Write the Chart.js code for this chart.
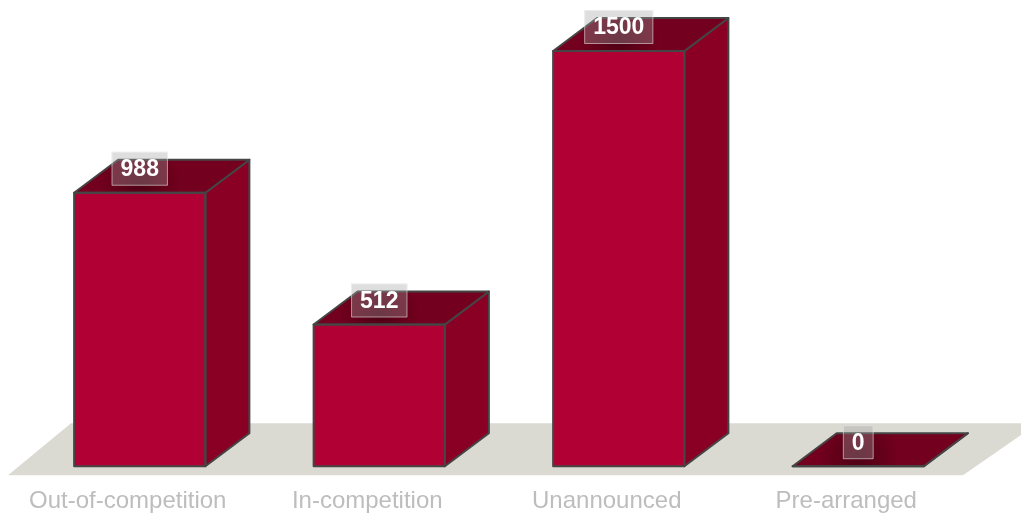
<!DOCTYPE html>
<html>
<head>
<meta charset="utf-8">
<script src="https://cdn.jsdelivr.net/npm/chart.js@4.4.1/dist/chart.umd.min.js"></script>
<style>
html,body{margin:0;padding:0;background:#ffffff;}
#wrap{position:relative;width:1021px;height:516px;}
</style>
</head>
<body>
<div id="wrap"><canvas id="c" width="1021" height="516"></canvas></div>
<script>
const categories = ["Out-of-competition", "In-competition", "Unannounced", "Pre-arranged"];
const values = [988, 512, 1500, 0];
const yMax = 1500;

const FRONT = "rgb(177,0,51)";
const SIDE = "rgb(138,0,36)";
const TOP = "rgb(114,0,30)";
const EDGE = "#454545";
const FLOOR = "#dad9d2";
const DX = 44, DY = -33;

const floorPlugin = {
  id: "floor3d",
  beforeDatasetsDraw(chart) {
    const ctx = chart.ctx;
    const a = chart.chartArea;
    const base = chart.scales.y.getPixelForValue(0);
    ctx.save();
    ctx.fillStyle = FLOOR;
    ctx.beginPath();
    ctx.moveTo(a.left - 12, base + 9);
    ctx.lineTo(a.left - 12 + 63, base - 43);
    ctx.lineTo(a.right + 60, base - 43);
    ctx.lineTo(a.right - 15, base + 9);
    ctx.closePath();
    ctx.fill();
    ctx.restore();
  }
};

const barPlugin = {
  id: "bars3d",
  afterDatasetsDraw(chart) {
    const ctx = chart.ctx;
    const meta = chart.getDatasetMeta(0);
    ctx.save();
    meta.data.forEach((el, i) => {
      const p = el.getProps(["x", "y", "base", "width"], true);
      const l = p.x - p.width / 2, r = p.x + p.width / 2;
      const t = Math.min(p.y, p.base), b = Math.max(p.y, p.base);
      ctx.lineWidth = 2;
      ctx.strokeStyle = EDGE;
      ctx.lineJoin = "round";
      // side face
      ctx.fillStyle = SIDE;
      ctx.beginPath();
      ctx.moveTo(r, t);
      ctx.lineTo(r + DX, t + DY);
      ctx.lineTo(r + DX, b + DY);
      ctx.lineTo(r, b);
      ctx.closePath();
      ctx.fill();
      ctx.stroke();
      // top face
      ctx.fillStyle = TOP;
      ctx.beginPath();
      ctx.moveTo(l, t);
      ctx.lineTo(l + DX, t + DY);
      ctx.lineTo(r + DX, t + DY);
      ctx.lineTo(r, t);
      ctx.closePath();
      ctx.fill();
      // shadow under label on top face
      ctx.save();
      ctx.clip();
      const g = ctx.createRadialGradient(p.x, t - 10, 2, p.x, t - 10, 40);
      g.addColorStop(0, "rgba(40,0,10,0.45)");
      g.addColorStop(1, "rgba(40,0,10,0)");
      ctx.fillStyle = g;
      ctx.fillRect(l, t + DY, p.width + DX, -DY);
      ctx.restore();
      ctx.beginPath();
      ctx.moveTo(l, t);
      ctx.lineTo(l + DX, t + DY);
      ctx.lineTo(r + DX, t + DY);
      ctx.lineTo(r, t);
      ctx.closePath();
      ctx.stroke();
      // front outline
      ctx.strokeRect(l, t, r - l, b - t);
    });
    // labels
    meta.data.forEach((el, i) => {
      const p = el.getProps(["x", "y", "base", "width"], true);
      const t = Math.min(p.y, p.base);
      const txt = String(values[i]);
      ctx.font = "bold 23px 'Liberation Sans', Arial, sans-serif";
      const w = ctx.measureText(txt).width + 18;
      const h = 34;
      const bx = p.x - w / 2, by = t - 7 - h;
      ctx.fillStyle = "rgba(160,160,160,0.35)";
      ctx.fillRect(bx, by, w, h);
      ctx.strokeStyle = "rgba(255,255,255,0.45)";
      ctx.lineWidth = 1;
      ctx.strokeRect(bx + 0.5, by + 0.5, w - 1, h - 1);
      ctx.fillStyle = "#ffffff";
      ctx.textAlign = "center";
      ctx.textBaseline = "middle";
      ctx.fillText(txt, p.x, by + h / 2 + 1);
    });
    ctx.restore();
  }
};

new Chart(document.getElementById("c"), {
  type: "bar",
  data: {
    labels: categories,
    datasets: [{
      data: values,
      backgroundColor: FRONT,
      borderWidth: 0,
      categoryPercentage: 1,
      barPercentage: 0.548
    }]
  },
  options: {
    responsive: false,
    animation: false,
    layout: { padding: { left: 20, right: 43, top: 51, bottom: -21 } },
    plugins: { legend: { display: false }, tooltip: { enabled: false } },
    scales: {
      x: {
        grid: { display: false, drawTicks: false },
        border: { display: false },
        ticks: {
          color: "#bdbdbd",
          font: { size: 24, family: "'Liberation Sans', Arial, sans-serif" },
          padding: 21,
          labelOffset: -12,
          maxRotation: 0,
          autoSkip: false
        }
      },
      y: {
        display: false,
        min: 0,
        max: yMax
      }
    }
  },
  plugins: [floorPlugin, barPlugin]
});
</script>
</body>
</html>
